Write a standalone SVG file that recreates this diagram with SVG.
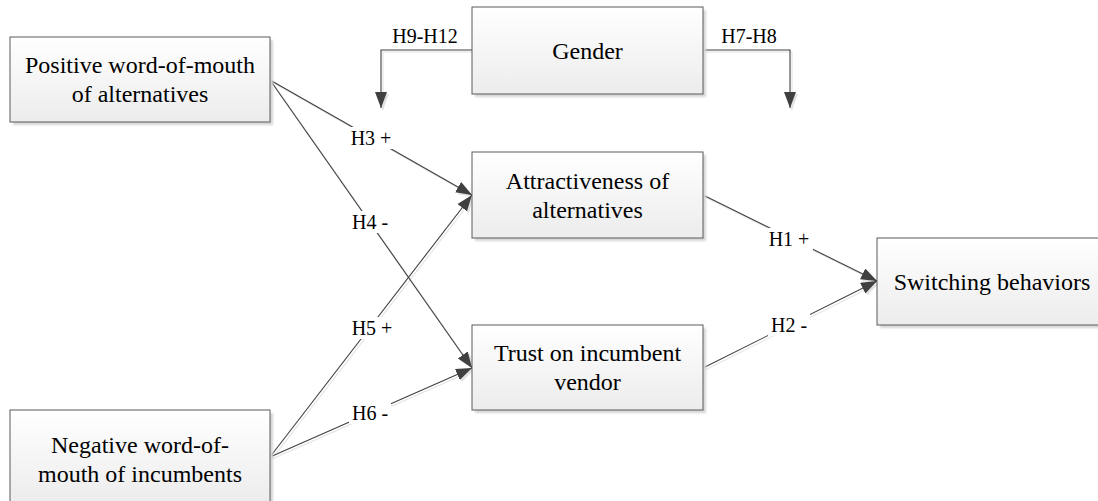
<svg xmlns="http://www.w3.org/2000/svg" width="1098" height="501" viewBox="0 0 1098 501" font-family="Liberation Serif, Times New Roman, serif">
  <defs>
    <linearGradient id="boxFill" x1="0" y1="0" x2="0" y2="1">
      <stop offset="0" stop-color="#ffffff"/>
      <stop offset="1" stop-color="#ececec"/>
    </linearGradient>
    <filter id="soft" x="-5%" y="-5%" width="110%" height="110%">
      <feGaussianBlur stdDeviation="1"/>
    </filter>
    <marker id="arrow" markerUnits="userSpaceOnUse" markerWidth="17" markerHeight="12" refX="16" refY="6" orient="auto">
      <path d="M0,0 L16,6 L0,12 z" fill="#404040"/>
    </marker>
    <marker id="arrowShadow" markerUnits="userSpaceOnUse" markerWidth="17" markerHeight="12" refX="16" refY="6" orient="auto">
      <path d="M0,0 L16,6 L0,12 z" fill="#e2e2e2"/>
    </marker>
  </defs>
  <style>
    .box { fill: url(#boxFill); stroke: #5a5a5a; stroke-width: 1; }
    .shadow { fill: #d6d6d6; filter: url(#soft); }
    text { font-family: "Liberation Serif", "Times New Roman", serif; fill: #000; text-anchor: middle; }
    .node { font-size: 24px; }
    .lbl { font-size: 20px; }
    .edge { fill: none; stroke: #404040; stroke-width: 1.1; marker-end: url(#arrow); }
    .edgeShadow { fill: none; stroke: #e2e2e2; stroke-width: 1.1; marker-end: url(#arrowShadow); }
    .lblBg { fill: #ffffff; }
  </style>

  <rect width="1098" height="501" fill="#ffffff"/>

  <!-- connectors -->
  <g id="connectors">
    <g transform="translate(2,2)">
      <line class="edgeShadow" x1="270" y1="80" x2="472" y2="195"/>
      <line class="edgeShadow" x1="270" y1="80" x2="472" y2="368"/>
      <line class="edgeShadow" x1="270" y1="457" x2="472" y2="195"/>
      <line class="edgeShadow" x1="270" y1="457" x2="472" y2="368"/>
      <line class="edgeShadow" x1="703" y1="195" x2="877" y2="281"/>
      <line class="edgeShadow" x1="703" y1="368" x2="877" y2="281"/>
      <path class="edgeShadow" d="M472,50 H381 V108"/>
      <path class="edgeShadow" d="M703,50 H790 V108"/>
    </g>
    <line class="edge" x1="270" y1="80" x2="472" y2="195"/>
    <line class="edge" x1="270" y1="80" x2="472" y2="368"/>
    <line class="edge" x1="270" y1="457" x2="472" y2="195"/>
    <line class="edge" x1="270" y1="457" x2="472" y2="368"/>
    <line class="edge" x1="703" y1="195" x2="877" y2="281"/>
    <line class="edge" x1="703" y1="368" x2="877" y2="281"/>
    <path class="edge" d="M472,50 H381 V108"/>
    <path class="edge" d="M703,50 H790 V108"/>

    <!-- path labels on white patches -->
    <rect class="lblBg" x="347" y="127" width="48" height="22"/>
    <text class="lbl" x="371" y="145">H3 +</text>
    <rect class="lblBg" x="349" y="211" width="42" height="22"/>
    <text class="lbl" x="370" y="229">H4 -</text>
    <rect class="lblBg" x="348" y="317" width="48" height="22"/>
    <text class="lbl" x="372" y="335">H5 +</text>
    <rect class="lblBg" x="349" y="402" width="42" height="22"/>
    <text class="lbl" x="370" y="420">H6 -</text>
    <rect class="lblBg" x="765" y="228" width="48" height="22"/>
    <text class="lbl" x="789" y="246">H1 +</text>
    <rect class="lblBg" x="768" y="314" width="42" height="22"/>
    <text class="lbl" x="789" y="332">H2 -</text>
    <text class="lbl" x="425" y="43">H9-H12</text>
    <text class="lbl" x="749" y="43">H7-H8</text>
  </g>

  <g id="positive-wom">
    <rect class="shadow" x="13" y="40" width="260" height="85"/>
    <rect class="box" x="10" y="37" width="260" height="85"/>
    <text class="node" x="140" y="73">Positive word-of-mouth</text>
    <text class="node" x="140" y="102">of alternatives</text>
  </g>

  <g id="negative-wom">
    <rect class="shadow" x="13" y="413" width="260" height="95"/>
    <rect class="box" x="10" y="410" width="260" height="95"/>
    <text class="node" x="140" y="453">Negative word-of-</text>
    <text class="node" x="140" y="482">mouth of incumbents</text>
  </g>

  <g id="gender">
    <rect class="shadow" x="475" y="10" width="231" height="87"/>
    <rect class="box" x="472" y="7" width="231" height="87"/>
    <text class="node" x="587.5" y="59">Gender</text>
  </g>

  <g id="attractiveness">
    <rect class="shadow" x="475" y="155" width="231" height="86"/>
    <rect class="box" x="472" y="152" width="231" height="86"/>
    <text class="node" x="587.5" y="189">Attractiveness of</text>
    <text class="node" x="587.5" y="218">alternatives</text>
  </g>

  <g id="trust">
    <rect class="shadow" x="475" y="328" width="231" height="85"/>
    <rect class="box" x="472" y="325" width="231" height="85"/>
    <text class="node" x="587.5" y="361">Trust on incumbent</text>
    <text class="node" x="587.5" y="390">vendor</text>
  </g>

  <g id="switching">
    <rect class="shadow" x="880" y="241" width="225" height="87"/>
    <rect class="box" x="877" y="238" width="225" height="87"/>
    <text class="node" x="992" y="290">Switching behaviors</text>
  </g>
</svg>
